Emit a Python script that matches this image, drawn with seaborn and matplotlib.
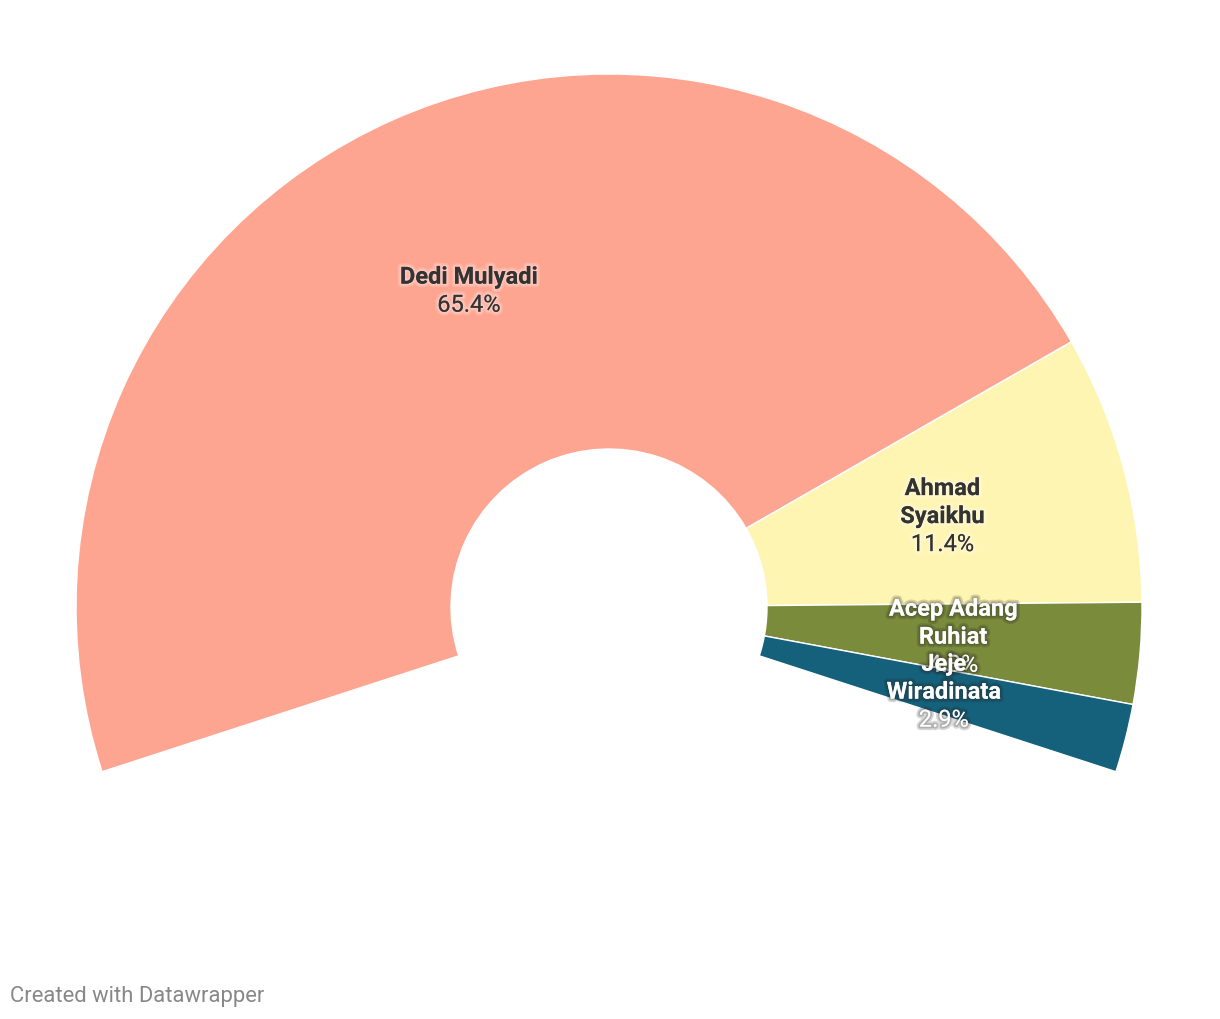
import seaborn as sns
import matplotlib.pyplot as plt
import matplotlib.patheffects as pe
import numpy as np

# data
candidates = ['Dedi Mulyadi', 'Ahmad\nSyaikhu', 'Acep Adang\nRuhiat', 'Jeje\nWiradinata']
shares = [65.4, 11.4, 4.3, 2.9]
colors = ['#fea592', '#fff5b2', '#7a8b3b', '#15607a']
text_colors = ['#333333', '#333333', '#ffffff', '#ffffff']

# style
sns.set_theme(style="white")
plt.rcParams['font.family'] = ['Roboto', 'DejaVu Sans']

fig = plt.figure(figsize=(12.2, 10.2), dpi=100)
W, H = 1220, 1020
cx, cy, R = 609, 608, 533
ax = fig.add_axes([(cx - R) / W, (H - cy - R) / H, 2 * R / W, 2 * R / H])

# the visible arc spans 216 degrees, the rest is an invisible filler
arc = 216.0
total = sum(shares)
filler = total * (360 - arc) / arc
hole = 158 / 533

wedges, _ = ax.pie(shares + [filler], colors=colors + ['none'],
                   startangle=198, counterclock=False,
                   wedgeprops=dict(width=1 - hole, edgecolor='white', linewidth=1))
wedges[-1].set_edgecolor('none')
ax.set_xlim(-1, 1)
ax.set_ylim(-1, 1)
ax.set_aspect('equal')
ax.axis('off')

# labels in the middle of each ring segment
r_mid = (1 + hole) / 2
line_h = 28
for w, name, val, tc in zip(wedges[:-1], candidates, shares, text_colors):
    ang = np.deg2rad((w.theta1 + w.theta2) / 2)
    x, y = r_mid * np.cos(ang), r_mid * np.sin(ang)
    lines = name.split('\n')
    n = len(lines) + 1
    halo = '#ffffff' if tc == '#333333' else '#222222'
    effects = [pe.withStroke(linewidth=5, foreground=halo, alpha=0.18),
               pe.withStroke(linewidth=2.5, foreground=halo, alpha=0.22)]
    for i, txt in enumerate(lines + [f'{val:.1f}%']):
        off = ((n - 1) / 2 - i) * line_h
        bold = i < len(lines)
        ax.annotate(txt, (x, y), xytext=(0, off), textcoords='offset pixels',
                    ha='center', va='center', fontsize=17, color=tc,
                    fontweight='bold' if bold else 'normal',
                    path_effects=effects)

fig.text(10 / W, 1 - 997 / H, 'Created with Datawrapper', ha='left', va='center',
         fontsize=15.8, color='#888888')

plt.savefig('out.png', dpi=100)
